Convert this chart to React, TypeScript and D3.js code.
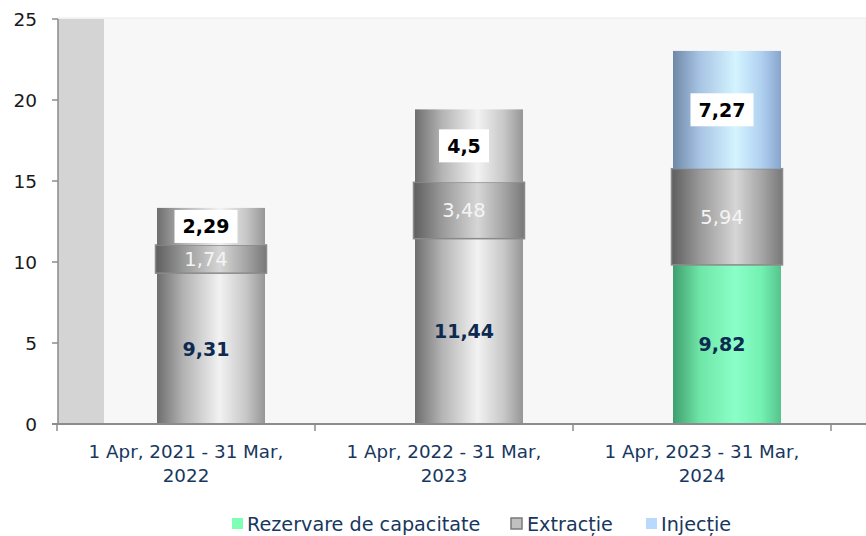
import React from "react";
import * as d3 from "d3";

const categories = ["1 Apr, 2021 - 31 Mar,|2022", "1 Apr, 2022 - 31 Mar,|2023", "1 Apr, 2023 - 31 Mar,|2024"];
const rezervare = [9.31, 11.44, 9.82];
const extractie = [1.74, 3.48, 5.94];
const injectie = [2.29, 4.5, 7.27];
const seriesNames = ["Rezervare de capacitate", "Extracție", "Injecție"];
const yTicks = [0, 5, 10, 15, 20, 25];
// per-point colour scheme: first two periods drawn entirely in grey
const pointScheme = [["grey", "dark", "grey"], ["grey", "dark", "grey"], ["green", "dark", "blue"]];

const W = 866, H = 536;
const FONT = "'DejaVu Sans', sans-serif";
const NAVY = "#17375e";

export default function App() {
  const x = d3.scaleBand().domain(categories).range([57, 831]).padding(0);
  const y = d3.scaleLinear().domain([0, 25]).range([424, 19]);
  const stacks = categories.map((c, i) => {
    const vals = [rezervare[i], extractie[i], injectie[i]];
    let acc = 0;
    return vals.map((v, k) => {
      const s = { y0: acc, y1: acc + v, v, k, scheme: pointScheme[i][k] };
      acc += v;
      return s;
    });
  });
  const barW = 108;
  const fmt = (v: number) => String(v).replace(".", ",");
  const grads: Record<string, string[]> = {
    grey: ["#6e6e6e", "#b4b4b4", "#f2f2f2", "#c8c8c8", "#969696"],
    dark: ["#5e5e5e", "#989898", "#d6d6d6", "#a4a4a4", "#787878"],
    green: ["#3f9e6e", "#6fe6a8", "#8affc8", "#74f0b2", "#55c48c"],
    blue: ["#6f88a8", "#a8c4e4", "#d4f4ff", "#b0d0f0", "#88a4cc"],
  };
  const legendColors = ["#7dffb5", "#c0c0c0", "#b9d9ff"];
  return (
    <svg width={W} height={H} style={{ display: "block", position: "absolute", left: 0, top: 0 }}>
      <defs>
        {Object.entries(grads).map(([k, c]) => (
          <linearGradient key={k} id={"g-" + k} x1="0" x2="1" y1="0" y2="0">
            <stop offset="0" stopColor={c[0]} />
            <stop offset="0.25" stopColor={c[1]} />
            <stop offset="0.58" stopColor={c[2]} />
            <stop offset="0.82" stopColor={c[3]} />
            <stop offset="1" stopColor={c[4]} />
          </linearGradient>
        ))}
      </defs>
      <rect x={0} y={0} width={W} height={H} fill="#ffffff" />
      <rect x={58} y={18} width={W - 58} height={406} fill="#f7f7f7" stroke="#ececec" strokeWidth={1} />
      <rect x={58} y={19} width={46} height={405} fill="#d4d4d4" />
      {/* bars */}
      {stacks.map((st, i) => {
        const left = (x(categories[i]) as number) + 100;
        const cx = left + barW / 2 - 5;
        return (
          <g key={i}>
            {st.map((s) => {
              const isMid = s.k === 1;
              return (
                <rect
                  key={s.k}
                  x={isMid ? left - 1.5 : left}
                  y={y(s.y1)}
                  width={isMid ? barW + 3 : barW}
                  height={y(s.y0) - y(s.y1)}
                  fill={`url(#g-${s.scheme})`}
                  stroke={isMid ? "#8a8a8a" : "none"}
                  strokeWidth={isMid ? 1.5 : 0}
                />
              );
            })}
            {st.map((s) => {
              const my = (y(s.y0) + y(s.y1)) / 2;
              const txt = fmt(s.v);
              if (s.k === 2) {
                const bw = txt.length * 13 + 11;
                return (
                  <g key={"l" + s.k}>
                    <rect x={cx - bw / 2} y={my - 16.5} width={bw} height={33} fill="#ffffff" />
                    <text x={cx} y={my + 7} textAnchor="middle" fontFamily={FONT} fontWeight="bold" fontSize={19} fill="#000">{txt}</text>
                  </g>
                );
              }
              return (
                <text key={"l" + s.k} x={cx} y={my + 7} textAnchor="middle" fontFamily={FONT}
                  fontWeight={s.k === 0 ? "bold" : "normal"} fontSize={s.k === 0 ? 19 : 19.5}
                  fill={s.k === 0 ? "#0f2a50" : "#f4f4f4"}>{txt}</text>
              );
            })}
          </g>
        );
      })}
      {/* y axis */}
      <line x1={58} x2={58} y1={19} y2={425} stroke="#8c8c8c" strokeWidth={1.5} />
      {yTicks.map((t) => (
        <g key={t}>
          <line x1={52} x2={58} y1={y(t)} y2={y(t)} stroke="#8c8c8c" strokeWidth={1.5} />
          <text x={37} y={y(t) + 7} textAnchor="end" fontFamily={FONT} fontSize={18.5} fill="#1a1a1a">{t}</text>
        </g>
      ))}
      {/* x axis */}
      <line x1={52} x2={W} y1={424} y2={424} stroke="#8c8c8c" strokeWidth={2} />
      {[...categories.map((c) => x(c) as number), 831].map((t, i) => (
        <line key={i} x1={t} x2={t} y1={424} y2={431} stroke="#8c8c8c" strokeWidth={1.5} />
      ))}
      {categories.map((c) => {
        const cx = (x(c) as number) + x.bandwidth() / 2;
        const lines = c.split("|");
        return (
          <text key={c} textAnchor="middle" fontFamily={FONT} fontSize={18.3} fill={NAVY}>
            {lines.map((l, j) => (
              <tspan key={j} x={cx} y={458 + j * 24}>{l}</tspan>
            ))}
          </text>
        );
      })}
      {/* legend */}
      {(() => {
        const items = [
          { sx: 232, tx: 247 },
          { sx: 511, tx: 527 },
          { sx: 646, tx: 661 },
        ];
        return items.map((it, k) => (
          <g key={k}>
            <rect x={it.sx} y={518} width={11} height={11} fill={legendColors[k]}
              stroke={k === 1 ? "#7a7a7a" : "none"} strokeWidth={k === 1 ? 1.5 : 0} />
            <text x={it.tx} y={531} fontFamily={FONT} fontSize={19.2} fill={NAVY}>{seriesNames[k]}</text>
          </g>
        ));
      })()}
    </svg>
  );
}
